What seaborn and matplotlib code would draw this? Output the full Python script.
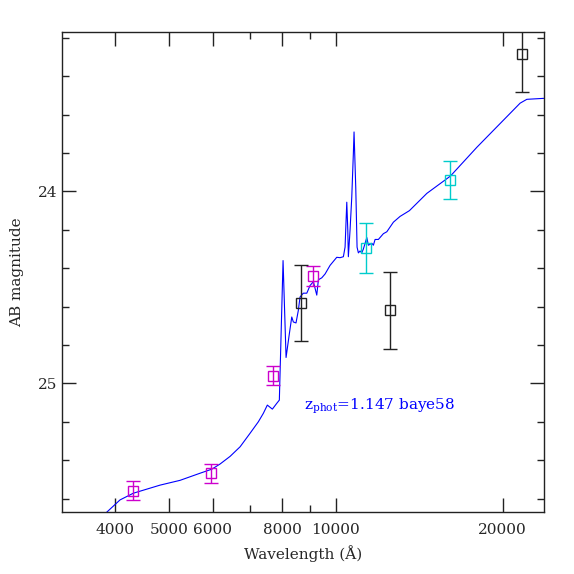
import numpy as np
import pandas as pd
import matplotlib
matplotlib.use("Agg")
import matplotlib.pyplot as plt
import matplotlib.ticker as mticker
import seaborn as sns

# model SED (wavelength in Angstrom, AB magnitude)
model_wave = [3750, 3861, 4080, 4313, 4818, 5236, 5689, 5973, 6183, 6447,
              6721, 7003, 7249, 7401, 7525, 7684, 7825, 7910, 8033, 8134,
              8247, 8329, 8384, 8477, 8559, 8620, 8738, 8866, 8986, 9112,
              9241, 9303, 9434, 9565, 9766, 10041, 10180, 10321, 10394, 10468,
              10512, 10537, 10612, 10687, 10759, 10789, 10866, 10925, 10985, 11062,
              11140, 11215, 11376, 11451, 11616, 11692, 11775, 11937, 12187, 12363,
              12706, 13062, 13580, 14600, 16100, 17970, 21510, 22120, 23700, 24500]
model_mag = [25.71, 25.671, 25.607, 25.572, 25.530, 25.505, 25.468, 25.447, 25.42, 25.38,
             25.33, 25.26, 25.20, 25.156, 25.113, 25.134, 25.104, 25.087, 24.36, 24.865,
             24.74, 24.654, 24.68, 24.685, 24.62, 24.55, 24.53, 24.53, 24.49, 24.47,
             24.54, 24.46, 24.45, 24.43, 24.385, 24.343, 24.345, 24.34, 24.29, 24.056,
             24.20, 24.34, 24.20, 24.03, 23.80, 23.69, 23.98, 24.29, 24.32, 24.31,
             24.32, 24.30, 24.24, 24.28, 24.27, 24.28, 24.25, 24.25, 24.22, 24.21,
             24.16, 24.13, 24.10, 24.01, 23.92, 23.77, 23.54, 23.52, 23.515, 23.515]

# photometry
mag_wave = [4313, 5957, 7714, 9089]
mag_mag = [25.558, 25.468, 24.96, 24.44]
mag_err = [0.05, 0.05, 0.05, 0.05]

blk_wave = [8646, 12550, 21660]
blk_mag = [24.581, 24.62, 23.284]
blk_err = [0.2, 0.2, 0.2]

cyn_wave = [11340, 16100]
cyn_mag = [24.293, 23.94]
cyn_err = [0.13, 0.10]

sns.set_style("ticks")
plt.rcParams['font.family'] = ['DejaVu Serif']
plt.rcParams['mathtext.fontset'] = 'dejavuserif'

fig = plt.figure(figsize=(5.74, 5.74), dpi=100)
ax = fig.add_axes([0.108, 0.108, 0.84, 0.836])

model = pd.DataFrame({'wave': model_wave, 'mag': model_mag})
sns.lineplot(data=model, x='wave', y='mag', color='#0000ff', lw=0.8,
             estimator=None, sort=False, ax=ax)

for w, m, e, c in [(mag_wave, mag_mag, mag_err, '#cc00cc'),
                   (blk_wave, blk_mag, blk_err, '#222222'),
                   (cyn_wave, cyn_mag, cyn_err, '#00cccc')]:
    ax.errorbar(w, m, yerr=e, fmt='s', mfc='none', mec=c, ecolor=c, ms=7.5,
                mew=1.0, elinewidth=1.0, capsize=4.7, capthick=1.0)

ax.set_xscale('log')
ax.set_xlim(3206, 23770)
ax.set_ylim(25.67, 23.17)

ax.xaxis.set_major_locator(mticker.FixedLocator([4000, 5000, 6000, 8000, 10000, 20000]))
ax.xaxis.set_major_formatter(mticker.FixedFormatter(['4000', '5000', '6000', '8000', '10000', '20000']))
ax.xaxis.set_minor_locator(mticker.FixedLocator([7000, 9000]))
ax.xaxis.set_minor_formatter(mticker.NullFormatter())
ax.yaxis.set_major_locator(mticker.FixedLocator([24, 25]))
ax.yaxis.set_minor_locator(mticker.FixedLocator(np.arange(23.2, 25.7, 0.2)))

ax.tick_params(which='both', direction='in', top=True, right=True, labelsize=11,
               width=1.0, color='#222222')
ax.tick_params(which='major', length=10)
ax.tick_params(which='minor', length=5)
ax.tick_params(axis='x', pad=8)
for s in ax.spines.values():
    s.set_linewidth(1.0)
    s.set_color('#222222')

ax.set_xlabel('Wavelength (Å)', fontsize=11, labelpad=6)
ax.set_ylabel('AB magnitude', fontsize=11, labelpad=10)

ax.text(8767, 25.134, r'z$_{\mathrm{phot}}$=1.147 baye58', color='#0000ff',
        fontsize=11, ha='left', va='baseline')

fig.savefig('out.png', dpi=100)
